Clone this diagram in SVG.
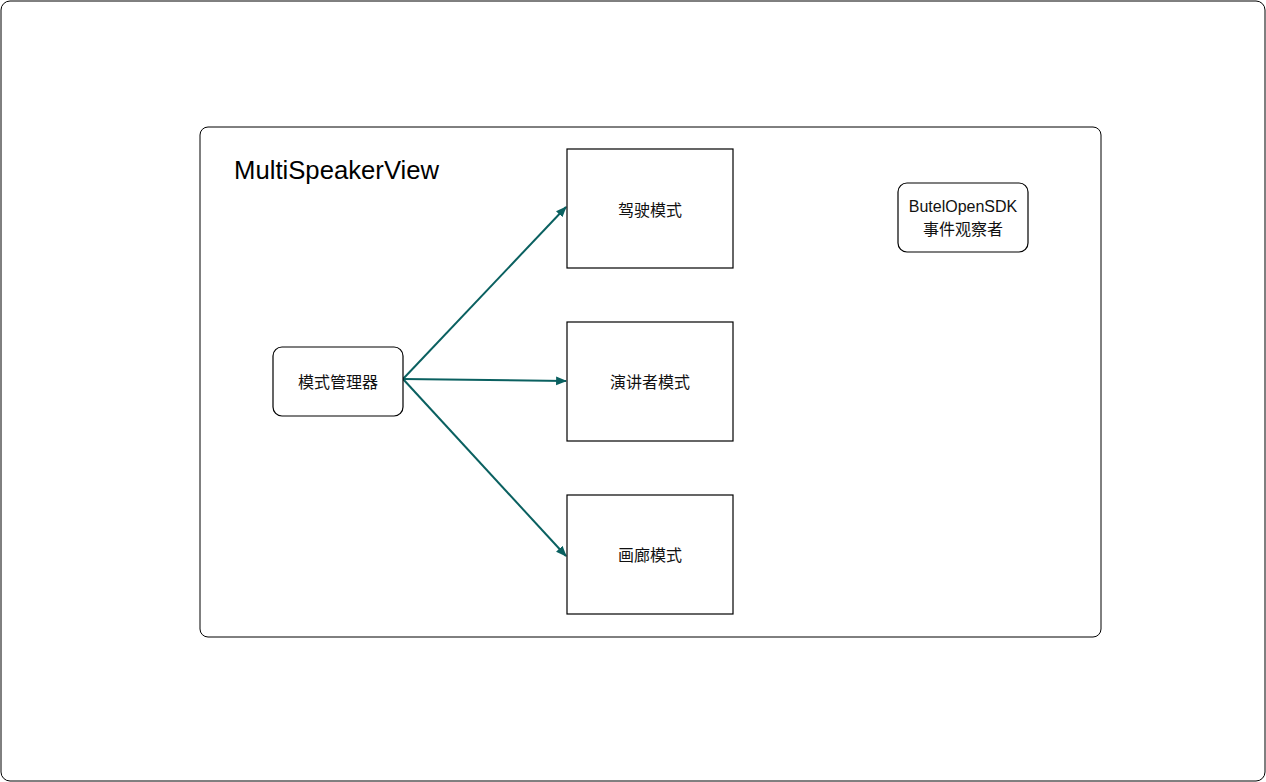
<svg xmlns="http://www.w3.org/2000/svg" width="1266" height="782" viewBox="0 0 1266 782">
<style>
.box{fill:#fff;stroke:#000;stroke-width:1.2}
.lbl{font-family:"Liberation Sans","Noto Sans CJK SC",sans-serif;font-size:16px;fill:#111;text-anchor:middle}
.edge{stroke:#0a6060;stroke-width:2;fill:none}
</style>
<defs>
<marker id="ah" viewBox="0 0 10 10" refX="9" refY="5" markerWidth="5.5" markerHeight="5.5" orient="auto" markerUnits="strokeWidth">
<path d="M0,1 L10,5 L0,9 z" fill="#0a6060"/>
</marker>
</defs>
<rect width="1266" height="782" fill="#fff"/>
<rect id="frame" x="1" y="1" width="1264" height="780" rx="9" fill="#fff" stroke="#000" stroke-width="1"/>
<g id="container">
<rect x="200" y="127" width="901" height="510" rx="8" fill="#fff" stroke="#000" stroke-width="1"/>
<text x="234" y="179" font-family="Liberation Sans,sans-serif" font-size="25.7" fill="#000">MultiSpeakerView</text>
</g>
<g id="connectors">
<line class="edge" x1="403" y1="379" x2="566" y2="207" marker-end="url(#ah)"/>
<line class="edge" x1="403" y1="379" x2="566" y2="381" marker-end="url(#ah)"/>
<line class="edge" x1="403" y1="379" x2="566" y2="556" marker-end="url(#ah)"/>
</g>
<g id="manager">
<rect class="box" x="273" y="347" width="130" height="69" rx="9"/>
<text class="lbl" x="338" y="388">模式管理器</text>
</g>
<g id="drive">
<rect class="box" x="567" y="149" width="166" height="119"/>
<text class="lbl" x="650" y="216">驾驶模式</text>
</g>
<g id="speaker">
<rect class="box" x="567" y="322" width="166" height="119"/>
<text class="lbl" x="650" y="388">演讲者模式</text>
</g>
<g id="gallery">
<rect class="box" x="567" y="495" width="166" height="119"/>
<text class="lbl" x="650" y="561">画廊模式</text>
</g>
<g id="observer">
<rect class="box" x="898" y="183" width="130" height="69" rx="9"/>
<text class="lbl" x="963" y="212">ButelOpenSDK</text>
<text class="lbl" x="963" y="235">事件观察者</text>
</g>
</svg>
